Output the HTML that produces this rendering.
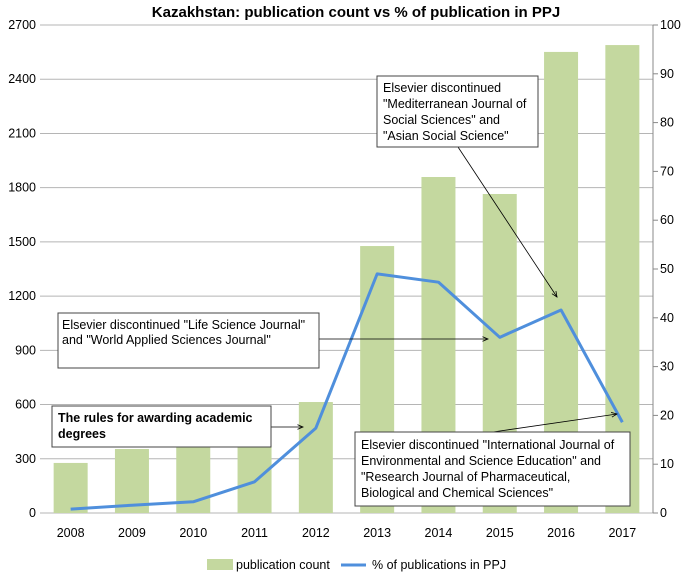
<!DOCTYPE html>
<html><head><meta charset="utf-8"><style>
body{margin:0;background:#fff;font-family:"Liberation Sans",sans-serif}
svg text{font-family:"Liberation Sans",sans-serif}
</style></head><body>
<svg width="685" height="574" xmlns="http://www.w3.org/2000/svg">
<text x="356" y="17" text-anchor="middle" font-size="15" font-weight="bold">Kazakhstan: publication count vs % of publication in PPJ</text>
<g id="grid"></g><g id="bars"></g><g id="line"></g><g id="axes"></g>
<g font-size="12.5">
<defs><marker id="ah" markerWidth="8" markerHeight="8" refX="7" refY="4" orient="auto"><path d="M0,1 L7,4 L0,7" fill="none" stroke="#000"/></marker></defs>
<line x1="319" y1="339" x2="488" y2="339" stroke="#000" stroke-width="0.8" marker-end="url(#ah)"/>
<line x1="271" y1="427" x2="303" y2="427" stroke="#000" stroke-width="0.8" marker-end="url(#ah)"/>
<line x1="458" y1="147" x2="557" y2="297" stroke="#000" stroke-width="0.8" marker-end="url(#ah)"/>
<line x1="493" y1="432" x2="617" y2="414" stroke="#000" stroke-width="0.8" marker-end="url(#ah)"/>
<g><rect x="58" y="313" width="261" height="55" fill="#fff" stroke="#444"/>
<text x="62" y="329">Elsevier discontinued "Life Science Journal"</text><text x="62" y="344">and "World Applied Sciences Journal"</text></g>
<g><rect x="52" y="406" width="219" height="41" fill="#fff" stroke="#444"/>
<text x="58" y="422" font-weight="bold">The rules for awarding academic</text><text x="58" y="438" font-weight="bold">degrees</text></g>
<g><rect x="377" y="76" width="161" height="71" fill="#fff" stroke="#444"/>
<text x="383" y="92">Elsevier discontinued</text><text x="383" y="108">"Mediterranean Journal of</text><text x="383" y="124">Social Sciences" and</text><text x="383" y="140">"Asian Social Science"</text></g>
<g><rect x="355" y="432" width="275" height="74" fill="#fff" stroke="#444"/>
<text x="361" y="449">Elsevier discontinued "International Journal of</text>
<text x="361" y="465">Environmental and Science Education" and</text>
<text x="361" y="481">"Research Journal of Pharmaceutical,</text>
<text x="361" y="497">Biological and Chemical Sciences"</text></g>
</g>
<g font-size="12.5">
<rect x="207" y="559" width="26" height="11" fill="#c4d89f"/>
<text x="236" y="569">publication count</text>
<line x1="341" y1="565" x2="366" y2="565" stroke="#4f8fdc" stroke-width="3"/>
<text x="372" y="569">% of publications in PPJ</text>
</g>
</svg>
<script>
const years=["2008","2009","2010","2011","2012","2013","2014","2015","2016","2017"];
const counts=[277,354,365,375,614,1477,1859,1765,2551,2589];
const pct=[0.8,1.6,2.3,6.4,17.4,49,47.3,36,41.6,18.6];
const leftTicks=[0,300,600,900,1200,1500,1800,2100,2400,2700];
const rightTicks=[0,10,20,30,40,50,60,70,80,90,100];
const NS="http://www.w3.org/2000/svg";
const L=40,R=653,T=25,B=513;
const band=(R-L)/years.length;
const xc=i=>L+band*(i+0.5);
const yl=v=>B-(B-T)*v/2700;
const yr=v=>B-(B-T)*v/100;
function mk(t,a,p){const e=document.createElementNS(NS,t);for(const k in a)e.setAttribute(k,a[k]);p.appendChild(e);return e;}
const g=document.getElementById('grid'),bg=document.getElementById('bars'),lg=document.getElementById('line'),ax=document.getElementById('axes');
leftTicks.forEach(v=>{const l=mk('line',{x1:L,x2:R,y1:yl(v),y2:yl(v),stroke:'#b5b5b5','stroke-width':1},g);


const t=mk('text',{x:36,y:yl(v)+4,'text-anchor':'end','font-size':12.5},ax);t.textContent=v;

});
rightTicks.forEach(v=>{mk('line',{x1:R,x2:R+5,y1:yr(v),y2:yr(v),stroke:'#888'},ax);
const t=mk('text',{x:660,y:yr(v)+4,'font-size':12.5},ax);t.textContent=v;

});
mk('line',{x1:R,x2:R,y1:T,y2:B,stroke:'#888'},ax);
counts.forEach((v,i)=>{const r=mk('rect',{x:xc(i)-17,y:yl(v),width:34,height:B-yl(v),fill:'#c4d89f'},bg);


const t=mk('text',{x:xc(i),y:537,'text-anchor':'middle','font-size':12.5},ax);t.textContent=years[i];

});
const pl=mk('polyline',{points:pct.map((v,i)=>xc(i)+','+yr(v)).join(' '),fill:'none',stroke:'#4f8fdc','stroke-width':3,'stroke-linejoin':'round'},lg);


</script>
</body></html>
